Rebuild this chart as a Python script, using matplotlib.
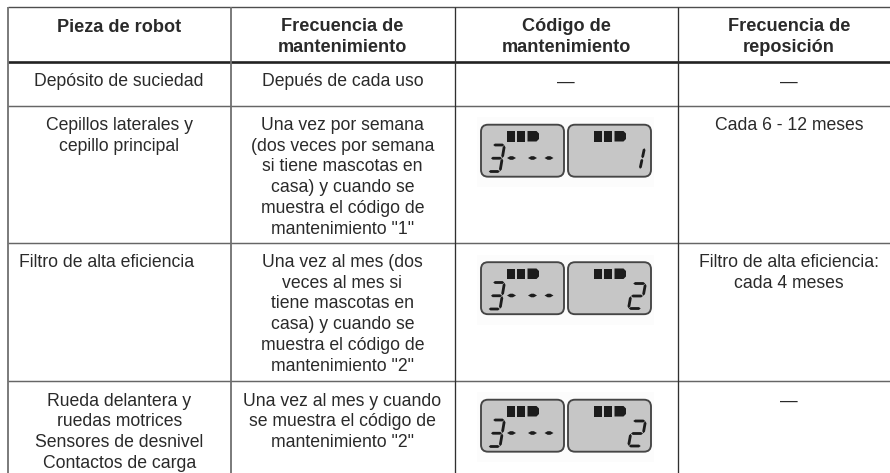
import matplotlib
matplotlib.use("Agg")
import matplotlib.pyplot as plt
from matplotlib.patches import FancyBboxPatch, Polygon, Rectangle

plt.rcParams['font.family'] = ['Liberation Sans', 'DejaVu Sans']

# Contenido de la tabla
headers = [
    ["Pieza de robot"],
    ["Frecuencia de", "mantenimiento"],
    ["Código de", "mantenimiento"],
    ["Frecuencia de", "reposición"],
]
piezas = [
    ["Depósito de suciedad"],
    ["Cepillos laterales y", "cepillo principal"],
    ["Filtro de alta eficiencia"],
    ["Rueda delantera y", "ruedas motrices", "Sensores de desnivel", "Contactos de carga"],
]
frecuencias = [
    ["Depués de cada uso"],
    ["Una vez por semana", "(dos veces por semana", "si tiene mascotas en", "casa) y cuando se",
     "muestra el código de", 'mantenimiento "1"'],
    ["Una vez al mes (dos", "veces al mes si", "tiene mascotas en", "casa) y cuando se",
     "muestra el código de", 'mantenimiento "2"'],
    ["Una vez al mes y cuando", "se muestra el código de", 'mantenimiento "2"'],
]
codigos = [None, "1", "2", "2"]
reposicion = [
    ["—"],
    ["Cada 6 - 12 meses"],
    ["Filtro de alta eficiencia:", "cada 4 meses"],
    ["—"],
]

# Geometría en píxeles
COL_X = [7.7, 231, 454.5, 677.5]
COL_W = 223
HEADER_TOP = 7.5
HEADER_BOTTOM = 62
ROW_LINES = [106, 243, 381]
ROW_BASELINE = [86.5, 130, 267, 405.5]
LCD_Y = [None, 124, 261.5, 399]
LINE_STEP = 20.7

TEXT_COLOR = '#2a2a2a'
LCD_DARK = '#1c1c1c'
FS = 12.7
FS_HEADER = 13.1

fig = plt.figure(figsize=(8.9, 4.73), dpi=100)
ax = fig.add_axes([0, 0, 1, 1])
ax.set_xlim(0, 890)
ax.set_ylim(473, 0)
ax.set_axis_off()


def draw_lines(x, y, lines, ha='center'):
    for i, line in enumerate(lines):
        ax.text(x, y + i * LINE_STEP, line, ha=ha, va='baseline', fontsize=FS, color=TEXT_COLOR)


# Segmento tipo lente del display
def segment(a, b, w=1.4, taper=.15, trim=.02):
    (x0, y0), (x1, y1) = a, b
    x0, y0, x1, y1 = x0 + (x1 - x0) * trim, y0 + (y1 - y0) * trim, x1 - (x1 - x0) * trim, y1 - (y1 - y0) * trim
    dx, dy = x1 - x0, y1 - y0
    length = (dx ** 2 + dy ** 2) ** 0.5
    nx, ny = -dy / length * w, dx / length * w
    t0, t1 = taper, 1 - taper
    return [(x0, y0), (x0 + dx * t0 + nx, y0 + dy * t0 + ny), (x0 + dx * t1 + nx, y0 + dy * t1 + ny),
            (x1, y1), (x0 + dx * t1 - nx, y0 + dy * t1 - ny), (x0 + dx * t0 - nx, y0 + dy * t0 - ny)]


DIGIT_SEGMENTS = {'1': 'bc', '2': 'abged', '3': 'abgcd'}


def draw_digit(x, y, w, h, digit):
    skew = 4.5
    pts = {
        'A': (x + skew, y), 'B': (x + w, y),
        'C': (x + skew / 2, y + h / 2), 'D': (x + w - skew / 2, y + h / 2),
        'E': (x, y + h), 'F': (x + w - skew, y + h),
    }
    ends = {'a': 'AB', 'b': 'BD', 'c': 'DF', 'd': 'FE', 'e': 'CE', 'f': 'AC', 'g': 'CD'}
    for s in DIGIT_SEGMENTS[digit]:
        p, q = ends[s]
        ax.add_patch(Polygon(segment(pts[p], pts[q]), closed=True, fc=LCD_DARK, ec='none', zorder=5))


def draw_battery(x, y):
    for dx in (26.5, 36.5):
        ax.add_patch(Rectangle((x + dx, y + 7), 8, 10.5, fc=LCD_DARK, ec='none', zorder=5))
    ax.add_patch(Polygon([(x + 47, y + 7), (x + 56, y + 7), (x + 58.5, y + 9.5), (x + 58.5, y + 15),
                          (x + 56, y + 17.5), (x + 47, y + 17.5)], closed=True, fc=LCD_DARK, ec='none', zorder=5))


def lcd_box(x, y):
    ax.add_patch(FancyBboxPatch((x + 0.5, y + 0.7), 83, 52, boxstyle='round,pad=0,rounding_size=7',
                                fc='#c6c6c6', ec='#454545', lw=1.35, zorder=4))
    draw_battery(x, y)


def draw_lcd(y, digit):
    left, right = 480.5, 567.5
    ax.add_patch(Rectangle((477, y - 7), 177, 70, fc='#fcfcfc', ec='none', zorder=1))
    lcd_box(left, y)
    draw_digit(left + 8, y + 21, 16, 26.5, '3')
    for dx in (31, 52, 68.5):
        ax.add_patch(Polygon(segment((left + dx - 4.5, y + 34), (left + dx + 4.5, y + 34), w=1.8, taper=.35, trim=0),
                             closed=True, fc=LCD_DARK, ec='none', zorder=5))
    lcd_box(right, y)
    if digit == '1':
        draw_digit(right + 67, y + 24, 10, 21, '1')
    else:
        draw_digit(right + 61, y + 22, 17, 25, digit)


# Líneas de la tabla
ax.plot([COL_X[0], 890], [HEADER_TOP, HEADER_TOP], color='#4d4d4d', lw=1.0, solid_capstyle='butt')
ax.plot([COL_X[0], 890], [HEADER_BOTTOM, HEADER_BOTTOM], color='#222222', lw=1.9, solid_capstyle='butt')
for y in ROW_LINES:
    ax.plot([COL_X[0], 890], [y, y], color='#666666', lw=1.05, solid_capstyle='butt')
for i, x in enumerate(COL_X):
    if i > 1:
        ax.plot([x, x], [HEADER_TOP, 473], color='#303030', lw=0.95, solid_capstyle='butt')
    else:
        ax.plot([x, x], [HEADER_TOP, 473], color='#6f6f6f', lw=1.3, solid_capstyle='butt')

# Cabecera
for x, lines in zip(COL_X, headers):
    y = 30.7 if len(lines) > 1 else 31.7
    for i, line in enumerate(lines):
        ax.text(x + COL_W / 2, y + i * 21, line, ha='center', va='baseline', fontsize=FS_HEADER,
                fontweight='bold', color=TEXT_COLOR)

# Filas
for r in range(len(piezas)):
    y = ROW_BASELINE[r]
    if r == 2:
        draw_lines(COL_X[0] + 11, y, piezas[r], ha='left')
    else:
        draw_lines(COL_X[0] + COL_W / 2, y, piezas[r])
    draw_lines(COL_X[1] + COL_W / 2, y, frecuencias[r])
    if codigos[r] is None:
        draw_lines(COL_X[2] + COL_W / 2, y, ["—"])
    else:
        draw_lcd(LCD_Y[r], codigos[r])
    draw_lines(COL_X[3] + COL_W / 2, y, reposicion[r])

fig.savefig('out.png', dpi=100)
